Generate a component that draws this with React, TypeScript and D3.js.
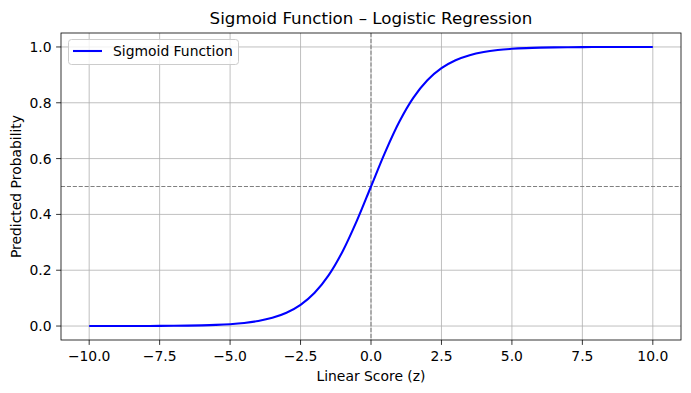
import React, { useEffect, useRef } from "react";
import * as d3 from "d3";

// linear score values (z) and the sigmoid output
const zValues = [
  -10, -9.5, -9, -8.5, -8, -7.5, -7, -6.5, -6, -5.5, -5, -4.5, -4, -3.5, -3,
  -2.5, -2, -1.5, -1, -0.5, 0, 0.5, 1, 1.5, 2, 2.5, 3, 3.5, 4, 4.5, 5, 5.5, 6,
  6.5, 7, 7.5, 8, 8.5, 9, 9.5, 10
];
const probValues = [
  0.00005, 0.00007, 0.00012, 0.0002, 0.00034, 0.00055, 0.00091, 0.0015,
  0.00247, 0.00407, 0.00669, 0.01099, 0.01799, 0.02931, 0.04743, 0.07586,
  0.1192, 0.18243, 0.26894, 0.37754, 0.5, 0.62246, 0.73106, 0.81757, 0.8808,
  0.92414, 0.95257, 0.97069, 0.98201, 0.98901, 0.99331, 0.99593, 0.99753,
  0.9985, 0.99909, 0.99945, 0.99966, 0.9998, 0.99988, 0.99993, 0.99995
];
const xTicks = [-10, -7.5, -5, -2.5, 0, 2.5, 5, 7.5, 10];
const yTicks = [0, 0.2, 0.4, 0.6, 0.8, 1.0];

const W = 691;
const H = 393;
const margin = { left: 61, right: 10, top: 33, bottom: 53 };
const FONT = "'DejaVu Sans', sans-serif";

export default function App() {
  const ref = useRef<SVGSVGElement>(null);

  useEffect(() => {
    const svg = d3.select(ref.current);
    svg.selectAll("*").remove();

    const x = d3.scaleLinear().domain([-11, 11]).range([margin.left, W - margin.right]);
    const y = d3.scaleLinear().domain([-0.05, 1.05]).range([H - margin.bottom, margin.top]);
    const top = margin.top;
    const bottom = H - margin.bottom;
    const left = margin.left;
    const right = W - margin.right;

    svg.append("rect").attr("width", W).attr("height", H).attr("fill", "#fff");

    // grid
    const grid = svg.append("g").attr("stroke", "#b0b0b0").attr("stroke-width", 0.8);
    xTicks.forEach(t => {
      grid.append("line").attr("x1", x(t)).attr("x2", x(t)).attr("y1", top).attr("y2", bottom);
    });
    yTicks.forEach(t => {
      grid.append("line").attr("x1", left).attr("x2", right).attr("y1", y(t)).attr("y2", y(t));
    });

    // reference lines
    svg
      .append("line")
      .attr("x1", left)
      .attr("x2", right)
      .attr("y1", y(0.5))
      .attr("y2", y(0.5))
      .attr("stroke", "gray")
      .attr("stroke-width", 1.1)
      .attr("stroke-dasharray", "4.1,1.8");
    svg
      .append("line")
      .attr("x1", x(0))
      .attr("x2", x(0))
      .attr("y1", top)
      .attr("y2", bottom)
      .attr("stroke", "gray")
      .attr("stroke-width", 1.1)
      .attr("stroke-dasharray", "4.1,1.8");

    // curve
    const line = d3
      .line<number>()
      .x((d, i) => x(zValues[i]))
      .y(d => y(d))
      .curve(d3.curveCatmullRom.alpha(0.5));
    svg
      .append("path")
      .datum(probValues)
      .attr("d", line)
      .attr("fill", "none")
      .attr("stroke", "blue")
      .attr("stroke-width", 2.08);

    // frame
    svg
      .append("rect")
      .attr("x", left)
      .attr("y", top)
      .attr("width", right - left)
      .attr("height", bottom - top)
      .attr("fill", "none")
      .attr("stroke", "#000")
      .attr("stroke-width", 0.8);

    // x axis
    const xAxis = svg.append("g");
    xTicks.forEach(t => {
      xAxis.append("line").attr("x1", x(t)).attr("x2", x(t)).attr("y1", bottom).attr("y2", bottom + 4.9).attr("stroke", "#000").attr("stroke-width", 0.8);
      xAxis
        .append("text")
        .attr("x", x(t))
        .attr("y", bottom + 20.5)
        .attr("text-anchor", "middle")
        .attr("font-family", FONT)
        .attr("font-size", 13.9)
        .text(d3.format(".1f")(t).replace("-", "\u2212"));
    });

    // y axis
    const yAxis = svg.append("g");
    yTicks.forEach(t => {
      yAxis.append("line").attr("x1", left - 4.9).attr("x2", left).attr("y1", y(t)).attr("y2", y(t)).attr("stroke", "#000").attr("stroke-width", 0.8);
      yAxis
        .append("text")
        .attr("x", left - 9.5)
        .attr("y", y(t))
        .attr("dy", "0.36em")
        .attr("text-anchor", "end")
        .attr("font-family", FONT)
        .attr("font-size", 13.9)
        .text(d3.format(".1f")(t));
    });

    svg
      .append("text")
      .attr("x", (left + right) / 2)
      .attr("y", 381)
      .attr("text-anchor", "middle")
      .attr("font-family", FONT)
      .attr("font-size", 13.9)
      .text("Linear Score (z)");

    svg
      .append("text")
      .attr("transform", `translate(21,${(top + bottom) / 2}) rotate(-90)`)
      .attr("text-anchor", "middle")
      .attr("font-family", FONT)
      .attr("font-size", 13.9)
      .text("Predicted Probability");

    svg
      .append("text")
      .attr("x", (left + right) / 2)
      .attr("y", 24)
      .attr("text-anchor", "middle")
      .attr("font-family", FONT)
      .attr("font-size", 16.7)
      .text("Sigmoid Function \u2013 Logistic Regression");

    // legend
    const lg = svg.append("g");
    lg.append("rect")
      .attr("x", 68.5)
      .attr("y", 39.5)
      .attr("width", 170)
      .attr("height", 25)
      .attr("rx", 3)
      .attr("fill", "#fff")
      .attr("fill-opacity", 0.8)
      .attr("stroke", "#cccccc")
      .attr("stroke-width", 1);
    lg.append("line")
      .attr("x1", 73)
      .attr("x2", 102)
      .attr("y1", 51)
      .attr("y2", 51)
      .attr("stroke", "blue")
      .attr("stroke-width", 2.08);
    lg.append("text")
      .attr("x", 113)
      .attr("y", 56)
      .attr("font-family", FONT)
      .attr("font-size", 13.9)
      .text("Sigmoid Function");
  }, []);

  return (
    <svg
      ref={ref}
      width={W}
      height={H}
      style={{ position: "absolute", left: 0, top: 0 }}
    />
  );
}
